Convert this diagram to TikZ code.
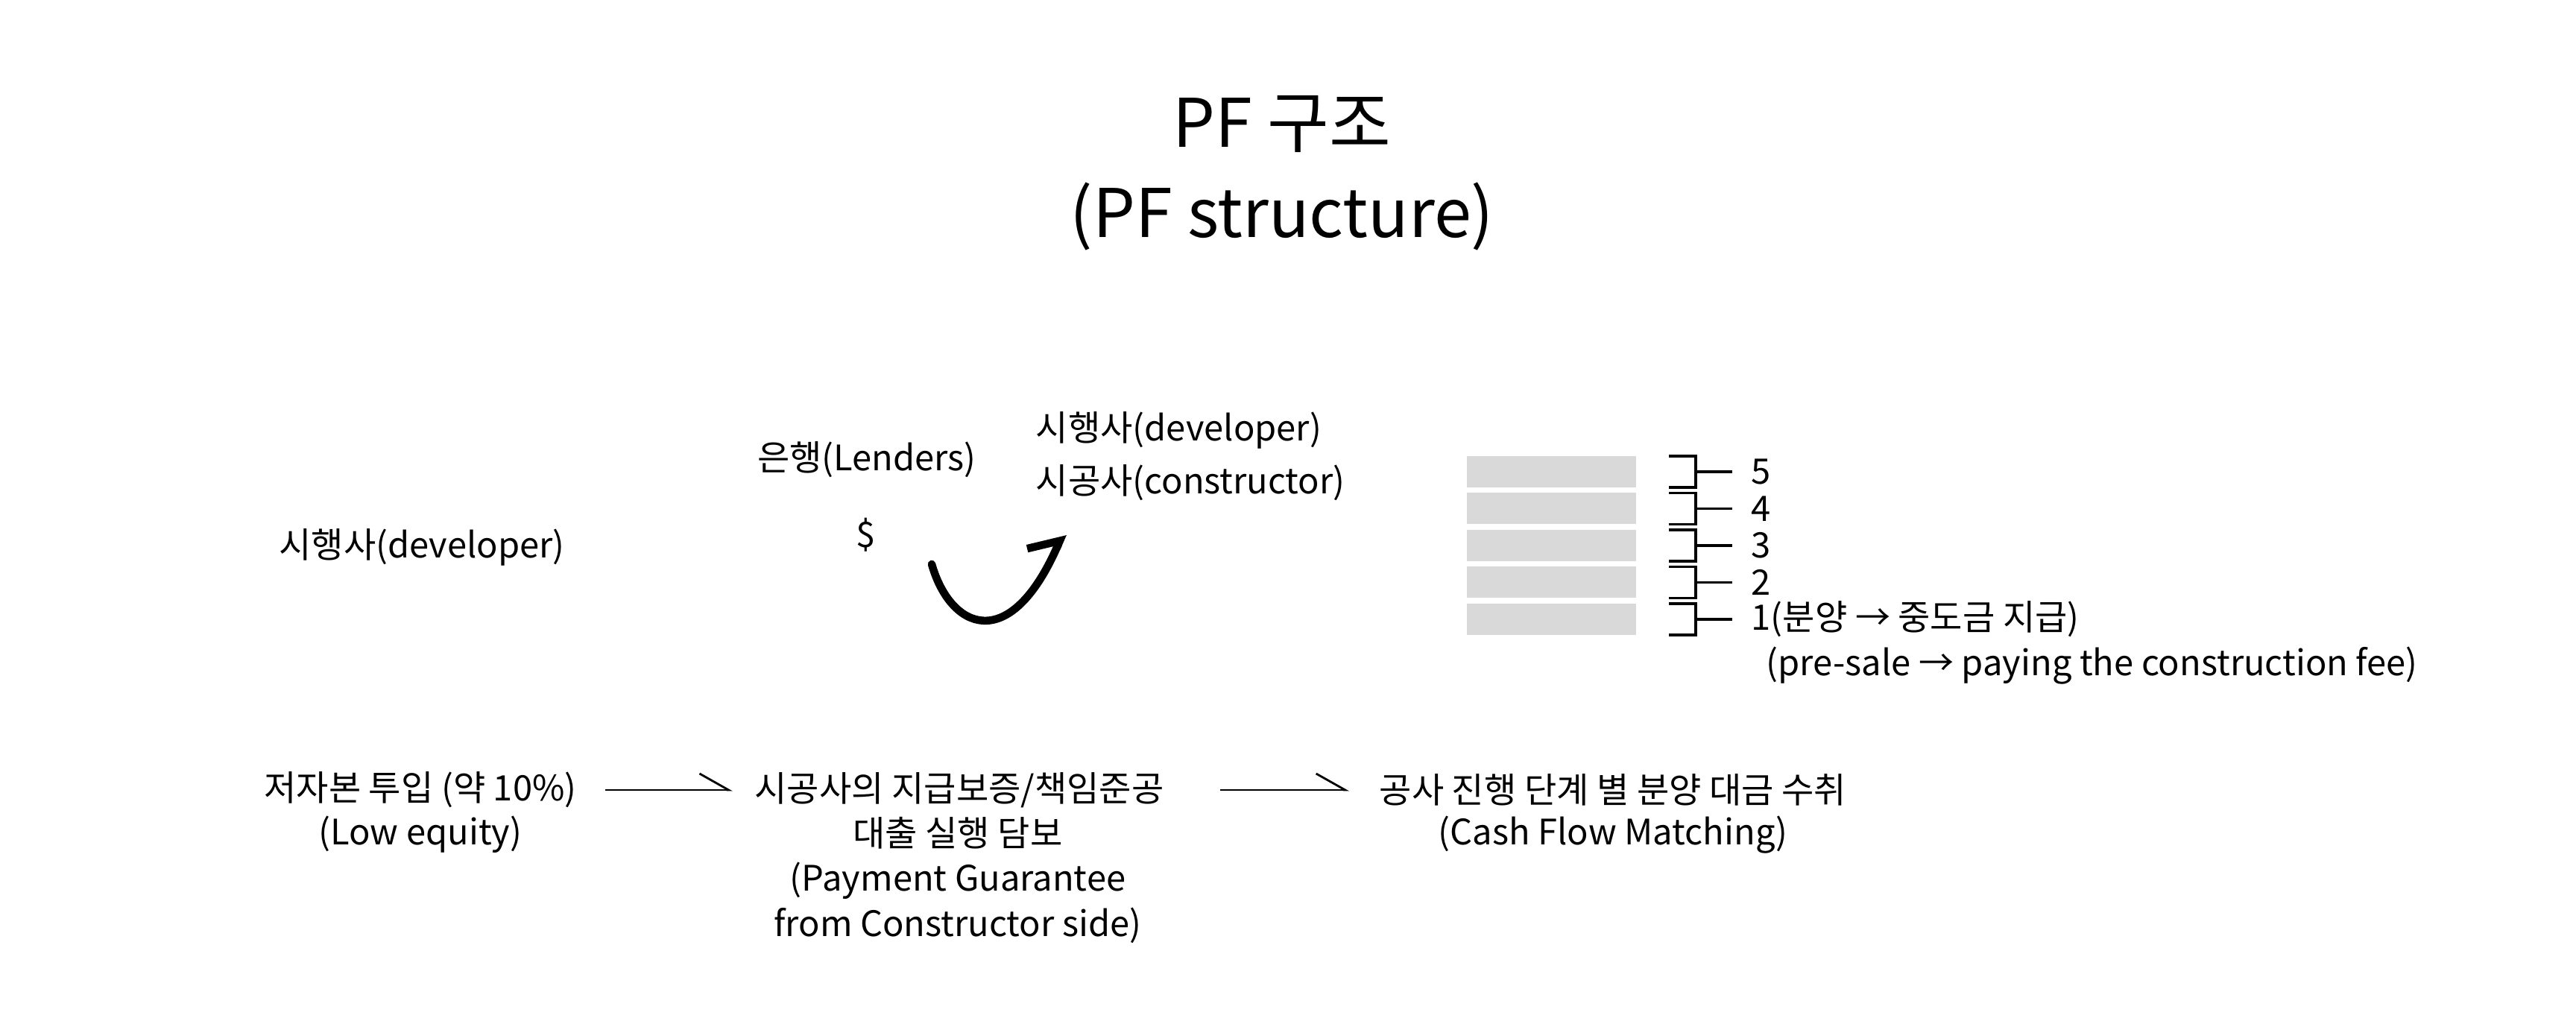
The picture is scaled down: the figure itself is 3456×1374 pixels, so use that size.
\documentclass[tikz,border=0pt]{standalone}
\usepackage{fontspec}
\setmainfont{Noto Sans CJK KR}
\usetikzlibrary{arrows.meta}
\definecolor{floorgray}{HTML}{D9D9D9}
\begin{document}
\begin{tikzpicture}[x=0.1mm, y=-0.1mm,
  tx/.style={inner sep=0pt, font=\fontsize{13.4}{17.1}\selectfont, align=center},
  tl/.style={inner sep=0pt, font=\fontsize{25.6}{34.4}\selectfont, align=center},
  fl/.style={rectangle, fill=floorgray, minimum width=22.7mm, minimum height=4.2mm, inner sep=0pt},
  nm/.style={tx, anchor=west, inner xsep=2.5mm},
  br/.style={black, line width=0.9pt},
  ar/.style={black, line width=0.8pt, -{Straight Barb[harpoon, length=3.9mm, width=4.4mm]}},
  bs/.style={black, line width=3pt, line cap=round, -{Straight Barb[harpoon, length=2.7mm, width=7.2mm]}}]
\useasboundingbox (0,0) rectangle (3456,1374);
\node[tl] (tt) at (1720,232) {PF 구조\\(PF structure)};
\node[tx] (dvl) at (566,734) {시행사(developer)};
\node[tx] (ln) at (1163,617) {은행(Lenders)};
\node[tx] (dl) at (1162,718) {\$};
\node[tx, anchor=west] (dv) at (1389,577) {시행사(developer)};
\node[tx, anchor=west] (cn) at (1389,648) {시공사(constructor)};
\coordinate (bs) at (1250,757);
\coordinate (be) at (1426,716);
\draw[bs] (bs) .. controls (1275,845) and (1355,880) .. (be);
\node[fl] (f5) at (2081,633) {};
\node[fl] (f4) at (2081,682.5) {};
\node[fl] (f3) at (2081,732) {};
\node[fl] (f2) at (2081,781.5) {};
\node[fl] (f1) at (2081,831) {};
\node[nm] (n5) at (2324,633) {5};
\node[nm] (n4) at (2324,682.5) {4};
\node[nm] (n3) at (2324,732) {3};
\node[nm] (n2) at (2324,781.5) {2};
\node[nm] (n1) at (2324,831) {1(분양 → 중도금 지급)};
\node[tx, anchor=west] (ps) at (2369,893) {(pre-sale → paying the construction fee)};
\draw[br] (2239,612) -| (2275,654) -- (2239,654) (2275,633) -- (n5);
\draw[br] (2239,661.5) -| (2275,703.5) -- (2239,703.5) (2275,682.5) -- (n4);
\draw[br] (2239,711) -| (2275,753) -- (2239,753) (2275,732) -- (n3);
\draw[br] (2239,760.5) -| (2275,802.5) -- (2239,802.5) (2275,781.5) -- (n2);
\draw[br] (2239,810) -| (2275,852) -- (2239,852) (2275,831) -- (n1);
\node[tx] (eq) at (564,1060) {저자본 투입 (약 10\%)};
\node[tx] (eqe) at (564,1120) {(Low equity)};
\node[tx] (pg) at (1287,1060) {시공사의 지급보증/책임준공};
\node[tx] (pge) at (1285,1181) {대출 실행 담보\\(Payment Guarantee\\from Constructor side)};
\node[tx] (cf) at (2164,1060) {공사 진행 단계 별 분양 대금 수취};
\node[tx] (cfe) at (2164,1120) {(Cash Flow Matching)};
\draw[ar, shorten <=3.75mm, shorten >=2.9mm] (eq) -- (pg);
\draw[ar, shorten <=7.5mm, shorten >=4mm] (pg) -- (cf);
\end{tikzpicture}
\end{document}
